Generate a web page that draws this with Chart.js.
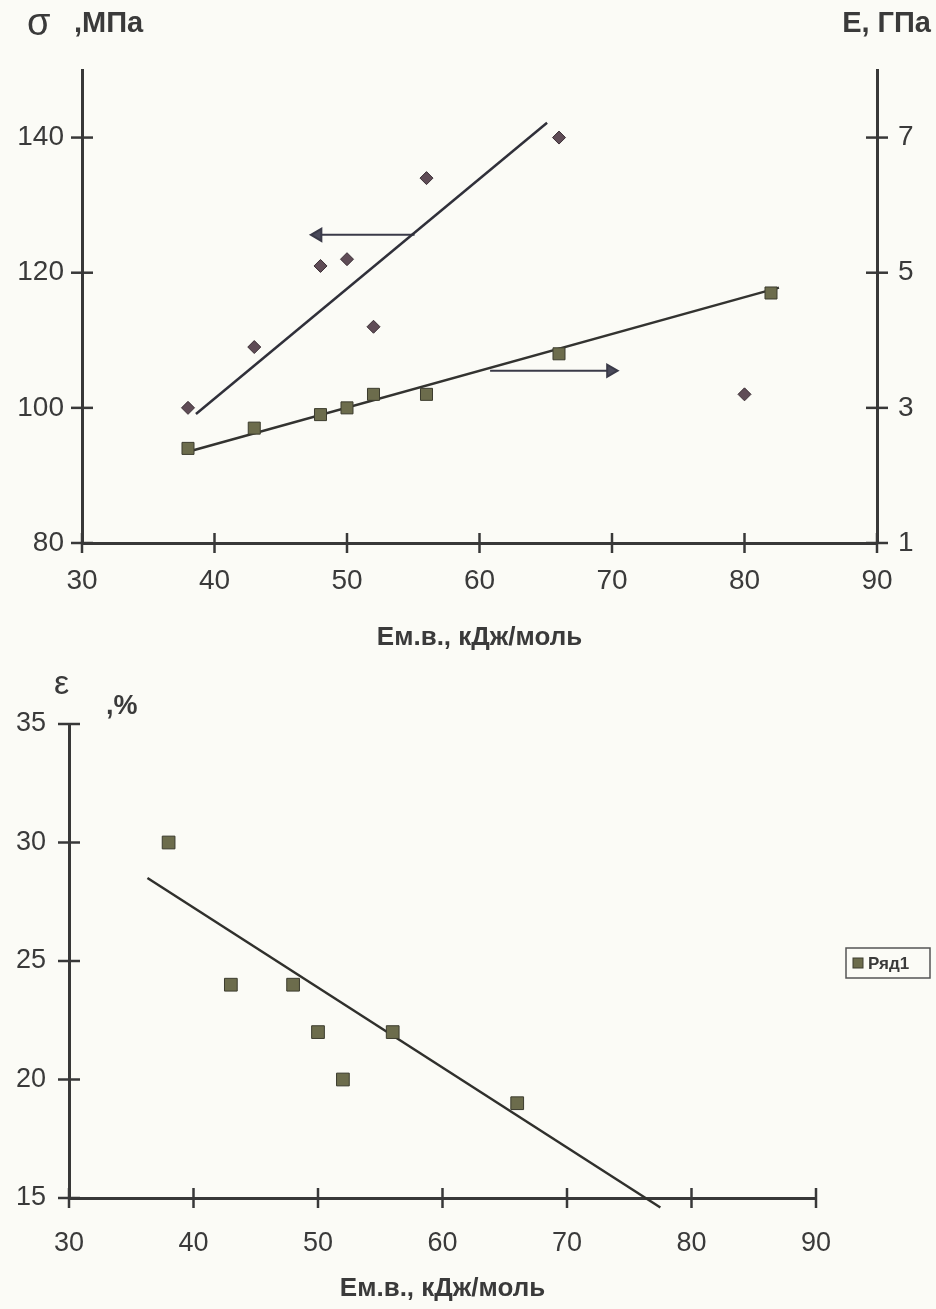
<!DOCTYPE html>
<html>
<head>
<meta charset="utf-8">
<script src="https://cdn.jsdelivr.net/npm/chart.js@4.4.0/dist/chart.umd.min.js"></script>
<style>
  body { margin: 0; background: #fbfbf6; width: 936px; height: 1309px; overflow: hidden; }
  .box { position: absolute; left: 0; width: 936px; }
</style>
</head>
<body>
<div class="box" style="top:0;height:660px"><canvas id="topChart" width="936" height="660"></canvas></div>
<div class="box" style="top:660px;height:649px"><canvas id="bottomChart" width="936" height="649"></canvas></div>
<script>
// top chart: strength (left axis) and modulus (right axis) vs energy
const sigmaX = [38, 43, 48, 50, 52, 56, 66, 80];
const sigmaMPa = [100, 109, 121, 122, 112, 134, 140, 102];
const modulusX = [38, 43, 48, 50, 52, 56, 66, 82];
const modulusGPa = [2.4, 2.7, 2.9, 3.0, 3.2, 3.2, 3.8, 4.7];
const sigmaTrendX = [38.6, 65.1];
const sigmaTrendY = [99.1, 142.2];
const modulusTrendX = [38, 82.6];
const modulusTrendY = [2.35, 4.78];
const sigmaArrowX = [55.1, 47.8];
const sigmaArrowY = [125.6, 125.6];
const modulusArrowX = [60.8, 69.9];
const modulusArrowY = [3.55, 3.55];
const energyTicks = [30, 40, 50, 60, 70, 80, 90];
const sigmaTicks = [80, 100, 120, 140];
const modulusTicks = [1, 3, 5, 7];

// bottom chart: strain vs energy
const strainX = [38, 43, 48, 50, 52, 56, 66];
const strainPct = [30, 24, 24, 22, 20, 22, 19];
const strainTrendX = [36.3, 77.5];
const strainTrendY = [28.5, 14.6];
const strainTicks = [15, 20, 25, 30, 35];

const AXIS = '#383838';
const TEXT = '#3a3a3a';
const FONT = 'Liberation Sans, Arial, sans-serif';

const pts = (xs, ys) => xs.map((x, i) => ({ x: x, y: ys[i] }));
const fixTicks = list => scale => { scale.ticks = list.map(v => ({ value: v })); };

const crossTicks = {
  id: 'crossTicks',
  afterDraw(chart) {
    const ctx = chart.ctx;
    ctx.save();
    ctx.strokeStyle = AXIS;
    ctx.lineWidth = 2.5;
    Object.values(chart.scales).forEach(s => {
      s.ticks.forEach(t => {
        const p = s.getPixelForValue(t.value);
        ctx.beginPath();
        if (s.isHorizontal()) {
          ctx.moveTo(p, s.top - 10);
          ctx.lineTo(p, s.top + 10);
        } else {
          const x = s.position === 'left' ? s.right : s.left;
          ctx.moveTo(x - 11, p);
          ctx.lineTo(x + 11, p);
        }
        ctx.stroke();
      });
    });
    ctx.restore();
  }
};

const topLabels = {
  id: 'topLabels',
  afterDraw(chart) {
    const ctx = chart.ctx;
    ctx.save();
    ctx.fillStyle = TEXT;
    ctx.textBaseline = 'alphabetic';
    ctx.font = '38px ' + FONT;
    ctx.fillText('σ', 27, 35);
    ctx.font = 'bold 29px ' + FONT;
    ctx.fillText(',МПа', 74, 32);
    ctx.textAlign = 'right';
    ctx.fillText('E, ГПа', 931, 32);
    ctx.restore();
  }
};

const bottomLabels = {
  id: 'bottomLabels',
  afterDraw(chart) {
    const ctx = chart.ctx;
    ctx.save();
    ctx.fillStyle = TEXT;
    ctx.font = '34px ' + FONT;
    ctx.fillText('ε', 54, 34);
    ctx.font = 'bold 27px ' + FONT;
    ctx.fillText(',%', 106, 54);
    // legend box
    const ds = chart.data.datasets[0];
    ctx.strokeStyle = '#555';
    ctx.lineWidth = 1.5;
    ctx.strokeRect(846, 288, 84, 30);
    ctx.fillStyle = ds.backgroundColor;
    ctx.fillRect(853, 298, 10, 10);
    ctx.strokeStyle = ds.borderColor;
    ctx.lineWidth = 1;
    ctx.strokeRect(853, 298, 10, 10);
    ctx.fillStyle = TEXT;
    ctx.font = 'bold 17px ' + FONT;
    ctx.textBaseline = 'middle';
    ctx.fillText(ds.label, 868, 304);
    ctx.restore();
  }
};

function axis(extra) {
  return Object.assign({
    type: 'linear',
    grid: { display: false, drawTicks: false },
    border: { display: true, color: AXIS, width: 3 }
  }, extra);
}

new Chart(document.getElementById('topChart'), {
  type: 'scatter',
  data: {
    datasets: [
      {
        label: 'σ',
        data: pts(sigmaX, sigmaMPa),
        yAxisID: 'y',
        pointStyle: 'rectRot',
        pointRadius: 6.5,
        backgroundColor: '#5f4c56',
        borderColor: '#3a2e34',
        borderWidth: 1
      },
      {
        label: 'E',
        data: pts(modulusX, modulusGPa),
        yAxisID: 'yE',
        pointStyle: 'rect',
        pointRadius: 8.5,
        backgroundColor: '#6c6c4c',
        borderColor: '#3c3c2e',
        borderWidth: 1
      },
      {
        label: 'σ trend',
        data: pts(sigmaTrendX, sigmaTrendY),
        yAxisID: 'y',
        showLine: true,
        pointRadius: 0,
        borderColor: '#30303a',
        borderWidth: 2.5
      },
      {
        label: 'E trend',
        data: pts(modulusTrendX, modulusTrendY),
        yAxisID: 'yE',
        showLine: true,
        pointRadius: 0,
        borderColor: '#333330',
        borderWidth: 2.5
      },
      {
        label: 'σ arrow',
        data: pts(sigmaArrowX, sigmaArrowY),
        yAxisID: 'y',
        showLine: true,
        borderColor: '#3a3a48',
        borderWidth: 2,
        pointStyle: 'triangle',
        pointRadius: [0, 7],
        rotation: 270,
        backgroundColor: '#4a4a5a',
        pointBorderColor: '#3a3a48'
      },
      {
        label: 'E arrow',
        data: pts(modulusArrowX, modulusArrowY),
        yAxisID: 'yE',
        showLine: true,
        borderColor: '#3a3a48',
        borderWidth: 2,
        pointStyle: 'triangle',
        pointRadius: [0, 7],
        rotation: 90,
        backgroundColor: '#4a4a5a',
        pointBorderColor: '#3a3a48'
      }
    ]
  },
  options: {
    responsive: false,
    animation: false,
    layout: { padding: { top: 70, left: 0, right: 0, bottom: 0 } },
    plugins: { legend: { display: false }, tooltip: { enabled: false } },
    scales: {
      x: axis({
        position: 'bottom',
        min: 30, max: 90,
        afterBuildTicks: fixTicks(energyTicks),
        afterFit: s => { s.height = 117; },
        ticks: { color: TEXT, font: { family: FONT, size: 28 }, padding: 21 },
        title: {
          display: true, text: 'Ем.в., кДж/моль', color: TEXT,
          font: { family: FONT, size: 26, weight: 'bold' },
          padding: { top: 7, bottom: 7 }
        }
      }),
      y: axis({
        position: 'left',
        min: 80, max: 150,
        afterBuildTicks: fixTicks(sigmaTicks),
        afterFit: s => { s.width = 82; },
        ticks: { color: TEXT, font: { family: FONT, size: 28 }, padding: 18 }
      }),
      yE: axis({
        position: 'right',
        min: 1, max: 8,
        afterBuildTicks: fixTicks(modulusTicks),
        afterFit: s => { s.width = 59; },
        ticks: { color: TEXT, font: { family: FONT, size: 28 }, padding: 21 }
      })
    }
  },
  plugins: [crossTicks, topLabels]
});

new Chart(document.getElementById('bottomChart'), {
  type: 'scatter',
  data: {
    datasets: [
      {
        label: 'Ряд1',
        data: pts(strainX, strainPct),
        pointStyle: 'rect',
        pointRadius: 9,
        backgroundColor: '#6c6c4c',
        borderColor: '#3c3c2e',
        borderWidth: 1
      },
      {
        label: 'trend',
        data: pts(strainTrendX, strainTrendY),
        showLine: true,
        clip: false,
        pointRadius: 0,
        borderColor: '#30302c',
        borderWidth: 2.5
      }
    ]
  },
  options: {
    responsive: false,
    animation: false,
    layout: { padding: { top: 64, left: 0, right: 120, bottom: 0 } },
    plugins: { legend: { display: false }, tooltip: { enabled: false } },
    scales: {
      x: axis({
        position: 'bottom',
        min: 30, max: 90,
        afterBuildTicks: fixTicks(energyTicks),
        afterFit: s => { s.height = 111; },
        ticks: { color: TEXT, font: { family: FONT, size: 27 }, padding: 29 },
        title: {
          display: true, text: 'Ем.в., кДж/моль', color: TEXT,
          font: { family: FONT, size: 26, weight: 'bold' },
          padding: { top: 5, bottom: 5 }
        }
      }),
      y: axis({
        position: 'left',
        min: 15, max: 35,
        afterBuildTicks: fixTicks(strainTicks),
        afterFit: s => { s.width = 69; },
        ticks: { color: TEXT, font: { family: FONT, size: 27 }, padding: 23 }
      })
    }
  },
  plugins: [crossTicks, bottomLabels]
});
</script>
</body>
</html>
